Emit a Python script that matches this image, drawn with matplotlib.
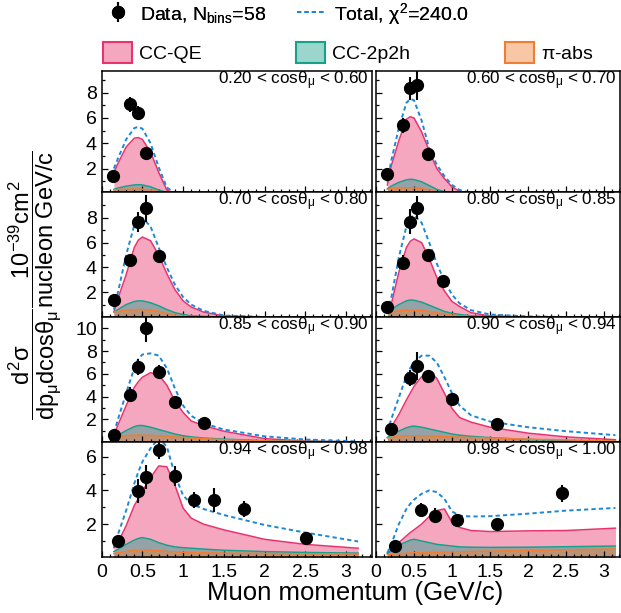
import numpy as np
import matplotlib.pyplot as plt
from matplotlib.patches import Patch
from matplotlib.lines import Line2D
from matplotlib.colors import to_rgba
from matplotlib.ticker import MultipleLocator, FixedLocator, FormatStrFormatter

plt.rcParams['font.family'] = ['Liberation Sans', 'DejaVu Sans']
plt.rcParams['mathtext.fontset'] = 'custom'
plt.rcParams['mathtext.rm'] = 'Liberation Sans'
plt.rcParams['mathtext.it'] = 'Liberation Sans'
plt.rcParams['mathtext.sf'] = 'Liberation Sans'
plt.rcParams['mathtext.bf'] = 'Liberation Sans:bold'

# cos(theta) bin edges, one panel per bin
edges = ['0.20', '0.60', '0.70', '0.80', '0.85', '0.90', '0.94', '0.98', '1.00']

# measured points (GeV/c, 1e-39 cm^2 / nucleon GeV/c)
data_p = [
    [0.14, 0.35, 0.45, 0.55],
    [0.15, 0.35, 0.45, 0.54, 0.69],
    [0.15, 0.35, 0.45, 0.55, 0.70],
    [0.15, 0.35, 0.45, 0.54, 0.69, 0.88],
    [0.15, 0.35, 0.45, 0.55, 0.70, 0.90, 1.26],
    [0.20, 0.45, 0.54, 0.69, 1.00, 1.59],
    [0.20, 0.45, 0.55, 0.70, 0.90, 1.13, 1.38, 1.75, 2.51],
    [0.25, 0.59, 0.78, 1.06, 1.59, 2.45],
]
data_v = [
    [1.39, 7.08, 6.36, 3.24],
    [1.55, 5.43, 8.35, 8.60, 3.11],
    [1.40, 4.56, 7.67, 8.75, 4.92],
    [0.84, 4.37, 7.67, 8.83, 5.02, 2.94],
    [0.66, 4.16, 6.59, 10.0, 6.20, 3.54, 1.64],
    [1.11, 5.64, 6.68, 5.79, 3.77, 1.55],
    [0.97, 3.96, 4.81, 6.39, 4.85, 3.43, 3.43, 2.90, 1.20],
    [0.71, 2.84, 2.49, 2.25, 2.01, 3.83],
]
data_e = [
    [0.35, 0.6, 0.55, 0.45],
    [0.35, 0.6, 0.9, 1.2, 0.4],
    [0.3, 0.5, 0.8, 1.1, 0.5],
    [0.25, 0.6, 1.0, 0.9, 0.5, 0.45],
    [0.25, 0.65, 0.7, 1.2, 0.6, 0.5, 0.35],
    [0.3, 0.7, 1.2, 0.5, 0.3, 0.3],
    [0.3, 0.7, 0.7, 0.5, 0.6, 0.5, 0.7, 0.5, 0.2],
    [0.25, 0.4, 0.45, 0.35, 0.25, 0.5],
]

# model curves read at these momenta
p_grid = [0.15, 0.2, 0.3, 0.4, 0.45, 0.5, 0.6, 0.7, 0.8, 0.9, 1.0, 1.1, 1.25, 1.5, 2.0, 2.5, 3.15]

qe = [
    [1.7, 2.4, 3.7, 4.4, 4.45, 4.3, 3.3, 1.7, 0.3, 0, 0, 0, 0, 0, 0, 0, 0],
    [0.7, 2.2, 4.2, 5.9, 6.1, 6.0, 4.9, 3.4, 2.0, 1.2, 0.54, 0.2, 0.03, 0, 0, 0, 0],
    [0.4, 1.5, 3.4, 5.6, 6.2, 6.45, 6.15, 5.0, 3.5, 2.2, 1.3, 0.8, 0.4, 0.08, 0, 0, 0],
    [0.3, 1.0, 3.6, 5.6, 6.1, 6.3, 6.0, 4.7, 3.2, 2.1, 1.25, 0.85, 0.35, 0.08, 0, 0, 0],
    [0.65, 1.5, 3.2, 4.8, 5.3, 5.7, 6.1, 5.9, 5.0, 3.6, 2.6, 1.85, 1.45, 0.95, 0.3, 0.08, 0],
    [0.8, 1.3, 2.4, 3.7, 4.3, 4.9, 5.75, 6.2, 5.6, 4.3, 2.95, 2.15, 1.75, 1.3, 0.78, 0.45, 0.2],
    [0.6, 0.9, 1.9, 3.1, 3.5, 3.95, 4.75, 5.45, 5.4, 4.3, 2.95, 2.35, 2.0, 1.66, 1.1, 0.8, 0.57],
    [0.25, 0.4, 0.9, 1.3, 1.5, 1.66, 2.0, 2.45, 2.8, 2.9, 2.1, 1.8, 1.62, 1.56, 1.6, 1.62, 1.76],
]
mec = [
    [0.35, 0.45, 0.6, 0.7, 0.72, 0.7, 0.55, 0.3, 0.1, 0, 0, 0, 0, 0, 0, 0, 0],
    [0.4, 0.6, 0.9, 1.1, 1.15, 1.12, 0.95, 0.65, 0.35, 0.15, 0.05, 0, 0, 0, 0, 0, 0],
    [0.4, 0.6, 1.0, 1.25, 1.3, 1.3, 1.15, 0.9, 0.6, 0.35, 0.2, 0.1, 0.05, 0, 0, 0, 0],
    [0.4, 0.6, 1.0, 1.3, 1.37, 1.35, 1.2, 0.95, 0.7, 0.45, 0.3, 0.2, 0.1, 0.03, 0, 0, 0],
    [0.4, 0.6, 1.0, 1.35, 1.45, 1.45, 1.3, 1.1, 0.9, 0.7, 0.55, 0.45, 0.35, 0.25, 0.12, 0.05, 0.02],
    [0.4, 0.6, 0.95, 1.25, 1.35, 1.4, 1.3, 1.15, 1.0, 0.85, 0.7, 0.6, 0.5, 0.38, 0.22, 0.12, 0.06],
    [0.37, 0.5, 0.8, 1.05, 1.15, 1.2, 1.1, 0.9, 0.75, 0.65, 0.6, 0.57, 0.52, 0.45, 0.37, 0.32, 0.28],
    [0.3, 0.45, 0.75, 0.95, 1.05, 1.1, 1.0, 0.9, 0.8, 0.75, 0.7, 0.65, 0.63, 0.62, 0.63, 0.66, 0.7],
]
piabs = [
    [0.3, 0.33, 0.36, 0.37, 0.37, 0.36, 0.3, 0.15, 0.05, 0, 0, 0, 0, 0, 0, 0, 0],
    [0.35, 0.4, 0.45, 0.47, 0.47, 0.46, 0.42, 0.3, 0.15, 0.05, 0, 0, 0, 0, 0, 0, 0],
    [0.4, 0.45, 0.55, 0.6, 0.6, 0.6, 0.55, 0.45, 0.3, 0.15, 0.08, 0.03, 0, 0, 0, 0, 0],
    [0.35, 0.4, 0.5, 0.55, 0.55, 0.55, 0.52, 0.45, 0.35, 0.25, 0.15, 0.1, 0.05, 0, 0, 0, 0],
    [0.4, 0.45, 0.55, 0.6, 0.6, 0.6, 0.58, 0.55, 0.5, 0.45, 0.4, 0.35, 0.3, 0.2, 0.1, 0.05, 0.02],
    [0.35, 0.4, 0.5, 0.55, 0.55, 0.55, 0.55, 0.53, 0.5, 0.48, 0.45, 0.43, 0.4, 0.35, 0.25, 0.18, 0.1],
    [0.25, 0.3, 0.38, 0.44, 0.46, 0.47, 0.45, 0.42, 0.38, 0.35, 0.33, 0.32, 0.3, 0.28, 0.26, 0.24, 0.22],
    [0.2, 0.22, 0.25, 0.28, 0.29, 0.3, 0.31, 0.32, 0.33, 0.34, 0.35, 0.36, 0.38, 0.4, 0.44, 0.48, 0.53],
]
total = [
    [2.0, 2.8, 4.3, 5.2, 5.3, 5.15, 4.0, 2.1, 0.5, 0.05, 0, 0, 0, 0, 0, 0, 0],
    [0.9, 2.6, 5.2, 7.2, 7.5, 7.4, 5.8, 3.6, 2.3, 1.4, 0.7, 0.3, 0.06, 0, 0, 0, 0],
    [0.6, 2.0, 5.0, 7.4, 7.9, 8.0, 7.3, 5.6, 4.0, 2.6, 1.6, 1.0, 0.5, 0.12, 0, 0, 0],
    [0.4, 1.5, 4.8, 7.3, 8.0, 8.2, 7.6, 6.0, 4.3, 2.9, 1.8, 1.1, 0.55, 0.2, 0.05, 0, 0],
    [0.8, 2.0, 4.3, 6.5, 7.3, 7.7, 7.8, 7.6, 6.5, 4.7, 3.2, 2.3, 1.65, 1.1, 0.5, 0.22, 0.05],
    [0.9, 2.0, 3.9, 5.8, 6.5, 7.0, 7.6, 7.6, 7.0, 5.7, 4.3, 3.2, 2.35, 1.8, 1.3, 0.95, 0.6],
    [0.6, 1.4, 2.8, 4.4, 5.1, 5.7, 6.5, 7.1, 6.6, 4.9, 3.7, 3.2, 2.9, 2.54, 1.95, 1.5, 0.97],
    [0.3, 0.8, 2.0, 2.9, 3.2, 3.45, 3.8, 4.0, 3.9, 3.5, 2.75, 2.5, 2.45, 2.47, 2.62, 2.8, 2.96],
]

c_qe = '#e8336f'
c_mec = '#17a08a'
c_pi = '#f07d32'
c_tot = '#1e88d6'
fill_a = 0.43

W, H = 621, 613
fig = plt.figure(figsize=(W / 100, H / 100), dpi=100)

cols = [(101.7, 372.0), (376.0, 620.0)]
rows = [(71, 192), (192, 317), (317, 442), (442, 557)]
xmax = [3.32, 3.21]
ylims = [(0.14, 9.72), (0, 10.08), (0, 11.0), (0.05, 6.87)]
yticks = [[2, 4, 6, 8], [2, 4, 6, 8], [2, 4, 6, 8, 10], [2, 4, 6]]
yminor = [[1, 3, 5, 7, 9], [1, 3, 5, 7, 9], [1, 3, 5, 7, 9], [1, 3, 5]]

h_data = None
for i in range(8):
    r, c = i // 2, i % 2
    x0, x1 = cols[c]
    t, b = rows[r]
    ax = fig.add_axes([x0 / W, 1 - b / H, (x1 - x0) / W, (b - t) / H])

    ax.fill_between(p_grid, 0, qe[i], color=c_qe, alpha=fill_a, lw=0)
    ax.fill_between(p_grid, 0, mec[i], color=c_mec, alpha=fill_a, lw=0)
    ax.fill_between(p_grid, 0, piabs[i], color=c_pi, alpha=fill_a, lw=0)
    ax.plot(p_grid, qe[i], color=c_qe, lw=1.1)
    ax.plot(p_grid, mec[i], color=c_mec, lw=1.1)
    ax.plot(p_grid, piabs[i], color=c_pi, lw=1.1)
    ax.plot(p_grid, total[i], color=c_tot, lw=1.4, ls=(0, (2.2, 1.6)))
    eb = ax.errorbar(data_p[i], data_v[i], yerr=data_e[i], fmt='o', color='black',
                     ms=8.5, elinewidth=1.5, capsize=0, zorder=5)
    if h_data is None:
        h_data = eb

    ax.set_xlim(0, xmax[c])
    ax.set_ylim(*ylims[r])
    ax.xaxis.set_major_locator(MultipleLocator(0.5))
    ax.xaxis.set_minor_locator(MultipleLocator(0.1))
    ax.yaxis.set_major_locator(FixedLocator(yticks[r]))
    ax.yaxis.set_minor_locator(FixedLocator(yminor[r]))
    ax.xaxis.set_major_formatter(FormatStrFormatter('%g'))
    ax.tick_params(which='both', direction='in', top=False, right=False, labelsize=14)
    ax.tick_params(which='major', length=4, width=0.9)
    ax.tick_params(which='minor', length=2.2, width=0.9)
    ax.tick_params(axis='y', pad=3.5)
    ax.tick_params(axis='x', pad=5)
    if c == 1:
        ax.tick_params(axis='y', labelleft=False)
    if r < 3:
        ax.tick_params(axis='x', labelbottom=False)
    for s in ax.spines.values():
        s.set_linewidth(1.1)

    lab = edges[i] + r' < cos$\theta_{\mu}$ < ' + edges[i + 1]
    ax.annotate(lab, xy=(1, 1), xycoords='axes fraction', xytext=(-2.5, -9.6),
                textcoords='offset points', ha='right', va='baseline', fontsize=12.3)

# legends
h_tot = Line2D([], [], color=c_tot, lw=1.4, ls=(0, (2.2, 1.6)))
leg1 = fig.legend([h_data, h_tot], [r'Data, N$_{\rm bins}$=58', r'Total, $\chi^{2}$=240.0'],
                  loc='center left', bbox_to_anchor=(103 / W, 1 - 14 / H), ncol=2,
                  frameon=False, fontsize=14, borderpad=0, borderaxespad=0,
                  handlelength=1.5, handleheight=1.1, handletextpad=0.4, columnspacing=1.6)
fig.add_artist(leg1)

patches = [Patch(facecolor=to_rgba(cc, fill_a), edgecolor=cc, lw=1.5) for cc in (c_qe, c_mec, c_pi)]
fig.legend(patches, ['CC-QE', 'CC-2p2h', r'$\pi$-abs'],
           loc='center left', bbox_to_anchor=(103 / W, 1 - 52.5 / H), ncol=3,
           frameon=False, fontsize=14, borderpad=0, borderaxespad=0,
           handlelength=1.5, handleheight=1.3, handletextpad=0.36, columnspacing=4.85)

fig.text(355 / W, 1 - 600 / H, 'Muon momentum (GeV/c)', ha='center', va='baseline', fontsize=18.5)
fig.text(35 / W, 1 - 285 / H,
         r'$\dfrac{d^{2}\sigma}{dp_{\mu}d\mathrm{cos}\theta_{\mu}}\dfrac{10^{-39}cm^{2}}{nucleon\ GeV/c}$',
         rotation=90, ha='center', va='center', fontsize=17)

fig.savefig('out.png', dpi=100)
